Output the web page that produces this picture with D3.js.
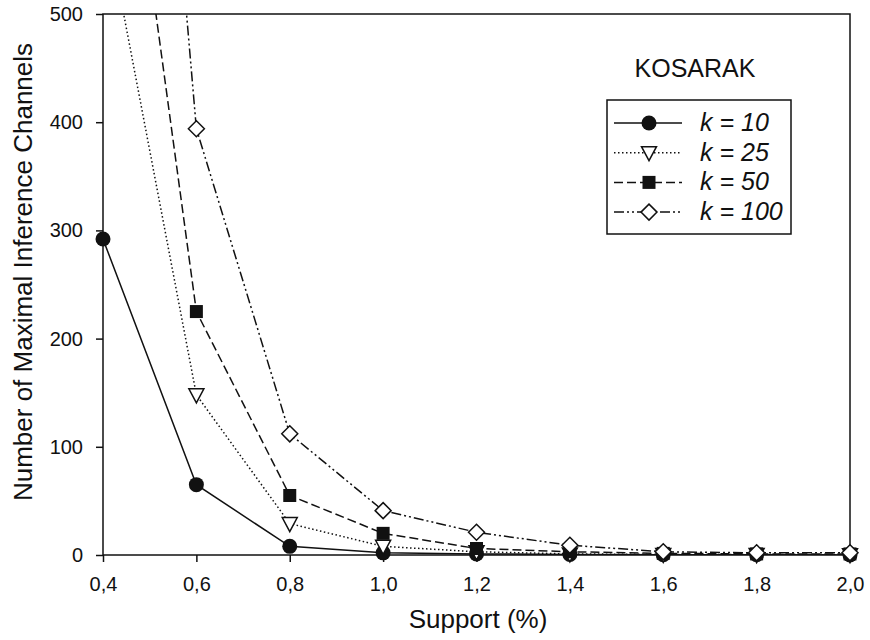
<!DOCTYPE html>
<html>
<head>
<meta charset="utf-8">
<script src="https://cdn.jsdelivr.net/npm/d3@7"></script>
<style>
  body { margin: 0; background: #fff; }
  text { font-family: "Liberation Sans", Arial, sans-serif; fill: #111; }
</style>
</head>
<body>
<div id="chart"></div>
<script>
var support = [0.4, 0.6, 0.8, 1.0, 1.2, 1.4, 1.6, 1.8, 2.0];
var k10 = [292, 65, 8, 2, 1, 0.5, 0.3, 0.2, 0.1];
var k25 = [600, 148, 29, 8, 3, 1, 0.5, 0.4, 0.3];
var k50 = [860, 225, 55, 20, 6, 3, 1.5, 1, 1];
var k100 = [1400, 394, 112, 41, 21, 9, 3, 2, 2];
var seriesNames = ["k = 10", "k = 25", "k = 50", "k = 100"];
var xTicks = [0.4, 0.6, 0.8, 1.0, 1.2, 1.4, 1.6, 1.8, 2.0];
var yTicks = [0, 100, 200, 300, 400, 500];

function init() {
    var w = 870, h = 640;
    var left = 103, right = 850, top = 14, bottom = 555;

    var svg = d3.select("#chart").append("svg")
        .attr("width", w)
        .attr("height", h);

    var xScale = d3.scaleLinear().domain([0.4, 2.0]).range([left, right]);
    var yScale = d3.scaleLinear().domain([0, 500]).range([bottom, top]);

    var fmt = d => d3.format(".1f")(d).replace(".", ",");

    svg.append("clipPath").attr("id", "plot")
        .append("rect")
        .attr("x", left).attr("y", top)
        .attr("width", right - left).attr("height", bottom - top);

    // x axis
    var xAxis = svg.append("g")
        .attr("transform", `translate(0, ${bottom})`)
        .call(d3.axisBottom(xScale).tickValues(xTicks).tickFormat(fmt).tickSize(7).tickPadding(15));
    // y axis
    var yAxis = svg.append("g")
        .attr("transform", `translate(${left}, 0)`)
        .call(d3.axisLeft(yScale).tickValues(yTicks).tickSize(7).tickPadding(13));

    [xAxis, yAxis].forEach(g => {
        g.select(".domain").remove();
        g.selectAll("line").attr("stroke", "#111").attr("stroke-width", 1.5);
        g.selectAll("text").style("font-size", "20px").attr("fill", "#111");
    });

    // frame
    svg.append("rect")
        .attr("x", left).attr("y", top)
        .attr("width", right - left).attr("height", bottom - top)
        .attr("fill", "none").attr("stroke", "#111").attr("stroke-width", 1.5);

    var series = [
        { name: seriesNames[0], values: k10, dash: null, marker: "circle" },
        { name: seriesNames[1], values: k25, dash: "1.5,2.5", marker: "triangle" },
        { name: seriesNames[2], values: k50, dash: "9,4", marker: "square" },
        { name: seriesNames[3], values: k100, dash: "10,3,2,3,2,3", marker: "diamond" }
    ];

    var line = d3.line()
        .x((d, i) => xScale(support[i]))
        .y(d => yScale(d));

    var plot = svg.append("g").attr("clip-path", "url(#plot)");
    var marks = svg.append("g");

    function drawMarker(g, type, x, y) {
        if (type === "circle") {
            g.append("circle").attr("cx", x).attr("cy", y).attr("r", 7.5).attr("fill", "#111");
        } else if (type === "triangle") {
            g.append("path")
                .attr("d", `M${x - 7.5},${y - 6} L${x + 7.5},${y - 6} L${x},${y + 8} Z`)
                .attr("fill", "#fff").attr("stroke", "#111").attr("stroke-width", 1.5);
        } else if (type === "square") {
            g.append("rect").attr("x", x - 6.5).attr("y", y - 6.5)
                .attr("width", 13).attr("height", 13).attr("fill", "#111");
        } else {
            g.append("path")
                .attr("d", `M${x},${y - 8} L${x + 8},${y} L${x},${y + 8} L${x - 8},${y} Z`)
                .attr("fill", "#fff").attr("stroke", "#111").attr("stroke-width", 1.5);
        }
    }

    series.forEach(s => {
        plot.append("path")
            .datum(s.values)
            .attr("d", line)
            .attr("fill", "none")
            .attr("stroke", "#111")
            .attr("stroke-width", 1.5)
            .attr("stroke-dasharray", s.dash);
    });

    series.forEach(s => {
        s.values.forEach((v, i) => {
            if (v <= 500) drawMarker(marks, s.marker, xScale(support[i]), yScale(v));
        });
    });

    // title
    svg.append("text")
        .attr("x", 695).attr("y", 77)
        .attr("text-anchor", "middle")
        .style("font-size", "25px")
        .text("KOSARAK");

    // legend
    var lg = svg.append("g");
    lg.append("rect")
        .attr("x", 607).attr("y", 100).attr("width", 184).attr("height", 134)
        .attr("fill", "#fff").attr("stroke", "#111").attr("stroke-width", 1.5);

    series.forEach((s, i) => {
        var y = 123 + i * 29.7;
        lg.append("line")
            .attr("x1", 614).attr("x2", 682).attr("y1", y).attr("y2", y)
            .attr("stroke", "#111").attr("stroke-width", 1.5)
            .attr("stroke-dasharray", s.dash);
        drawMarker(lg, s.marker, 649, y);
        lg.append("text")
            .attr("x", 700).attr("y", y + 8)
            .style("font-size", "25px")
            .style("font-style", "italic")
            .text(s.name);
    });

    // axis titles
    svg.append("text")
        .attr("x", 478).attr("y", 628)
        .attr("text-anchor", "middle")
        .style("font-size", "26px")
        .text("Support (%)");

    svg.append("text")
        .attr("transform", `translate(32, 272) rotate(-90)`)
        .attr("text-anchor", "middle")
        .style("font-size", "26px")
        .text("Number of Maximal Inference Channels");
}

window.onload = init;
</script>
</body>
</html>
